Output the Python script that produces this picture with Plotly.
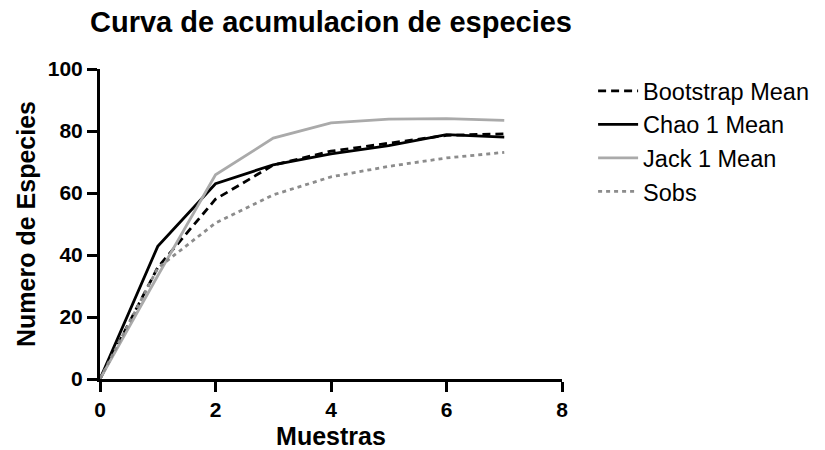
import plotly.graph_objects as go

muestras = [0, 1, 2, 3, 4, 5, 6, 7]
bootstrap_mean = [0, 36.0, 58.0, 69.0, 73.5, 76.0, 78.6, 79.1]
chao1_mean = [0, 42.8, 63.0, 69.1, 72.6, 75.3, 78.8, 78.0]
jack1_mean = [0, 33.3, 65.9, 77.7, 82.6, 83.8, 84.0, 83.4]
sobs = [0, 35.8, 50.3, 59.4, 65.2, 68.6, 71.3, 73.1]

series = [
    ("Bootstrap Mean", bootstrap_mean, "#000000", "8px,5px"),
    ("Chao 1 Mean", chao1_mean, "#000000", "solid"),
    ("Jack 1 Mean", jack1_mean, "#aaaaaa", "solid"),
    ("Sobs", sobs, "#8c8c8c", "4px,4px"),
]

fig = go.Figure()
for name, vals, color, dash in series:
    fig.add_trace(go.Scatter(
        x=muestras, y=vals, name=name, mode="lines",
        line=dict(color=color, width=2.8, dash=dash),
    ))

font_family = "Liberation Sans, Arial, sans-serif"
axis_common = dict(
    showline=True, linecolor="black", linewidth=3,
    ticks="outside", ticklen=10, tickwidth=3, tickcolor="black",
    showgrid=False, zeroline=False, automargin=False,
    tickfont=dict(family=font_family, size=21, color="black", weight="bold"),
)

fig.update_layout(
    width=825, height=450,
    margin=dict(l=100, r=262, t=69, b=71),
    plot_bgcolor="white", paper_bgcolor="white",
    title=dict(
        text="<b>Curva de acumulacion de especies</b>",
        x=0.5, xref="paper", xanchor="center",
        y=0.951, yref="container", yanchor="middle",
        font=dict(family=font_family, size=29, color="black"),
    ),
    xaxis=dict(range=[0, 8], dtick=2, tick0=0,
               title=dict(text="<b>Muestras</b>", standoff=9,
                          font=dict(family=font_family, size=25, color="black")),
               **axis_common),
    yaxis=dict(range=[0, 100], dtick=20, tick0=0,
               title=dict(text="<b>Numero de Especies</b>", standoff=6,
                          font=dict(family=font_family, size=25, color="black")),
               **axis_common),
    legend=dict(
        x=1.065, y=1.0, xanchor="left", yanchor="top",
        font=dict(family=font_family, size=23.5, color="black"),
        itemwidth=40, tracegroupgap=0,
    ),
)

fig.write_html("out.html")
